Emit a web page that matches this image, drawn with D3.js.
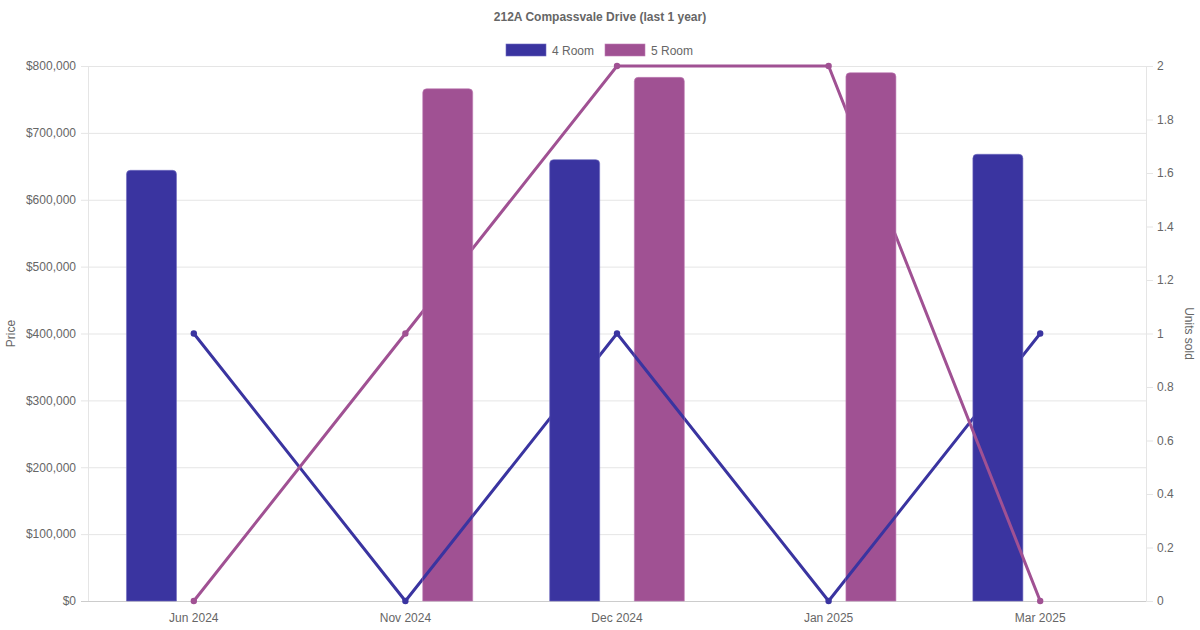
<!DOCTYPE html>
<html>
<head>
<meta charset="utf-8">
<script src="https://cdn.jsdelivr.net/npm/d3@7"></script>
<style>
  body { margin: 0; background: #fff; }
  svg text { font-family: "Liberation Sans", Arial, sans-serif; fill: #666; }
</style>
</head>
<body>
<div id="chart"></div>
<script>
var months = ["Jun 2024", "Nov 2024", "Dec 2024", "Jan 2025", "Mar 2025"];
var seriesNames = ["4 Room", "5 Room"];
var price4 = [644000, null, 660000, null, 668000];
var price5 = [null, 766000, 783000, 790000, null];
var units4 = [1, 0, 1, 0, 1];
var units5 = [0, 1, 2, 2, 0];
var priceTicks = [0, 100000, 200000, 300000, 400000, 500000, 600000, 700000, 800000];
var unitTicks = [0, 0.2, 0.4, 0.6, 0.8, 1, 1.2, 1.4, 1.6, 1.8, 2];

var colors = {"4 Room": "#3a34a0", "5 Room": "#a05193"};
var borders = {"4 Room": "#6e6ac0", "5 Room": "#c07db5"};

var W = 1200, H = 630;
var margin = {top: 66, right: 54, bottom: 29, left: 88};
var width = W - margin.left - margin.right,
    height = H - margin.top - margin.bottom;

var svg = d3.select("#chart").append("svg")
    .attr("width", W).attr("height", H);

var g = svg.append("g")
    .attr("transform", "translate(" + margin.left + "," + margin.top + ")");

var x = d3.scaleBand().domain(months).range([0, width]);
var xInner = d3.scaleBand().domain(seriesNames)
    .range([x.bandwidth() * 0.1, x.bandwidth() * 0.9]);
var barW = 50;

var yL = d3.scaleLinear().domain([0, 800000]).range([height, 0]);
var yR = d3.scaleLinear().domain([0, 2]).range([height, 0]);

// grid from left axis
g.append("g").selectAll("line").data(priceTicks).enter().append("line")
    .attr("x1", -7).attr("x2", width)
    .attr("y1", function(d) { return yL(d) + 0.5; })
    .attr("y2", function(d) { return yL(d) + 0.5; })
    .attr("stroke", function(d) { return d === 0 ? "#ccc" : "#e5e5e5"; });

// right tick marks
g.append("g").selectAll("line").data(unitTicks).enter().append("line")
    .attr("x1", width).attr("x2", width + 7)
    .attr("y1", function(d) { return yR(d) + 0.5; })
    .attr("y2", function(d) { return yR(d) + 0.5; })
    .attr("stroke", "#e5e5e5");

// axis borders
g.append("line").attr("x1", 0.5).attr("x2", 0.5).attr("y1", 0).attr("y2", height).attr("stroke", "#e5e5e5");
g.append("line").attr("x1", width + 0.5).attr("x2", width + 0.5).attr("y1", 0).attr("y2", height).attr("stroke", "#e5e5e5");

var fmt = d3.format("$,");
var yAxisL = d3.axisLeft(yL).tickValues(priceTicks).tickFormat(fmt).tickSize(0).tickPadding(12);
var gl = g.append("g").call(yAxisL);
gl.select(".domain").remove();
gl.selectAll("text").style("font-size", "12px").attr("fill", "#666");

var yAxisR = d3.axisRight(yR).tickValues(unitTicks).tickFormat(d3.format("~g")).tickSize(0).tickPadding(11);
var gr = g.append("g").attr("transform", "translate(" + width + ",0)").call(yAxisR);
gr.select(".domain").remove();
gr.selectAll("text").style("font-size", "12px").attr("fill", "#666");

var xAxis = d3.axisBottom(x).tickSize(0).tickPadding(12);
var gx = g.append("g").attr("transform", "translate(0," + height + ")").call(xAxis);
gx.select(".domain").remove();
gx.selectAll("text").style("font-size", "12px").attr("fill", "#666");

var line = d3.line()
    .x(function(d, i) { return x(months[i]) + x.bandwidth() / 2; })
    .y(function(d) { return yR(d); });

function barPath(x0, y0, w, h, r) {
    r = Math.min(r, h);
    return "M" + x0 + "," + (y0 + h) +
        "V" + (y0 + r) +
        "Q" + x0 + "," + y0 + " " + (x0 + r) + "," + y0 +
        "H" + (x0 + w - r) +
        "Q" + (x0 + w) + "," + y0 + " " + (x0 + w) + "," + (y0 + r) +
        "V" + (y0 + h) + "Z";
}

function barData(name, vals) {
    return vals.map(function(v, i) { return {m: months[i], v: v}; })
        .filter(function(d) { return d.v != null; })
        .map(function(d) {
            var cx = x(d.m) + xInner(name) + xInner.bandwidth() / 2;
            return barPath(cx - barW / 2, yL(d.v), barW, height - yL(d.v), 4);
        });
}

function drawLine(parent, name, vals) {
    parent.append("path").datum(vals)
        .attr("d", line)
        .attr("fill", "none")
        .attr("stroke", colors[name])
        .attr("stroke-width", 3);
    parent.selectAll(".pt").data(vals).enter().append("circle")
        .attr("cx", function(d, i) { return x(months[i]) + x.bandwidth() / 2; })
        .attr("cy", function(d) { return yR(d); })
        .attr("r", 3.2)
        .attr("fill", colors[name]);
}

function drawBars(parent, name, vals) {
    parent.selectAll(".bar").data(barData(name, vals)).enter().append("path")
        .attr("d", function(d) { return d; })
        .attr("fill", colors[name])
        .attr("stroke", borders[name])
        .attr("stroke-width", 0.6);
}

// layering as in the reference: each line sits under its own bars but over the other series' bars
drawLine(g.append("g"), "4 Room", units4);
drawBars(g.append("g"), "4 Room", price4);
drawLine(g.append("g"), "5 Room", units5);
drawBars(g.append("g"), "5 Room", price5);

var clip = svg.append("defs").append("clipPath").attr("id", "clip5");
clip.selectAll("path").data(barData("5 Room", price5)).enter().append("path")
    .attr("d", function(d) { return d; });
drawLine(g.append("g").attr("clip-path", "url(#clip5)"), "4 Room", units4);

// title
svg.append("text")
    .attr("x", W / 2).attr("y", 21)
    .attr("text-anchor", "middle")
    .style("font-size", "12px").style("font-weight", "bold")
    .text("212A Compassvale Drive (last 1 year)");

// legend
var legend = svg.append("g").attr("transform", "translate(506,44)");
var lx = [0, 99];
seriesNames.forEach(function(n, i) {
    legend.append("rect")
        .attr("x", lx[i]).attr("y", 0).attr("width", 40).attr("height", 12)
        .attr("fill", colors[n]).attr("stroke", borders[n]).attr("stroke-width", 0.6);
    legend.append("text")
        .attr("x", lx[i] + 46).attr("y", 10.5)
        .style("font-size", "12px")
        .text(n);
});

// axis titles
svg.append("text")
    .attr("transform", "translate(15," + (margin.top + height / 2) + ") rotate(-90)")
    .attr("text-anchor", "middle")
    .style("font-size", "12px")
    .text("Price");
svg.append("text")
    .attr("transform", "translate(1185," + (margin.top + height / 2) + ") rotate(90)")
    .attr("text-anchor", "middle")
    .style("font-size", "12px")
    .text("Units sold");
</script>
</body>
</html>
